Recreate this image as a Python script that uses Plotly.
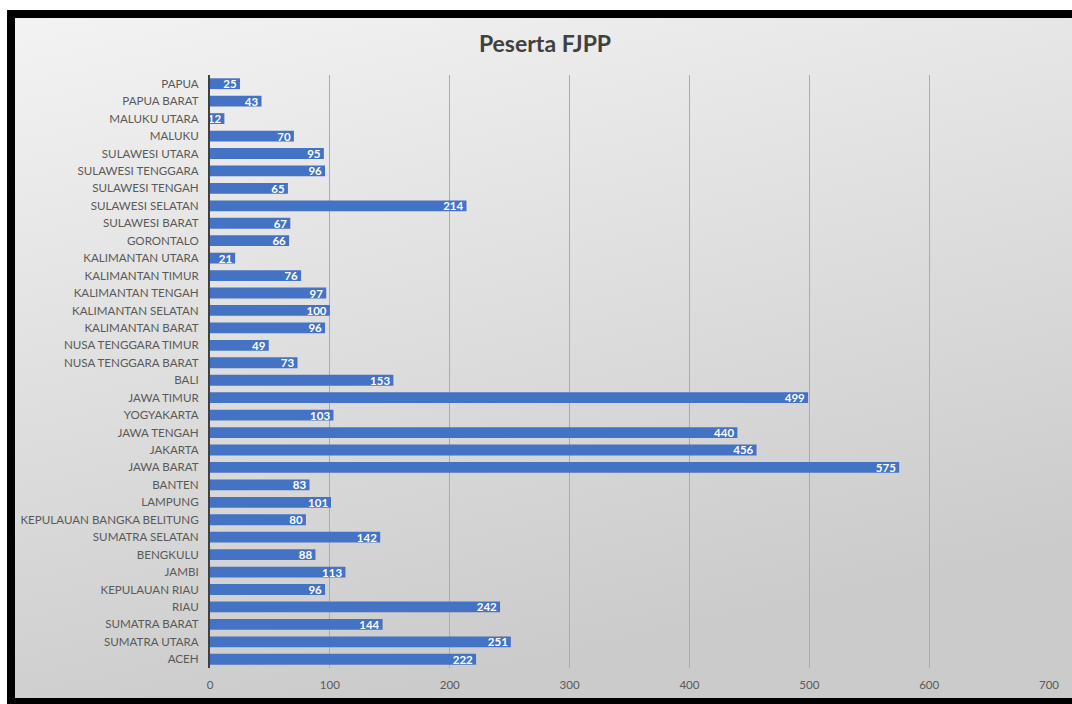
import base64
import plotly.graph_objects as go

# Data (top to bottom as shown in the reference)
provinces = [
    "PAPUA", "PAPUA BARAT", "MALUKU UTARA", "MALUKU", "SULAWESI UTARA",
    "SULAWESI TENGGARA", "SULAWESI TENGAH", "SULAWESI SELATAN", "SULAWESI BARAT",
    "GORONTALO", "KALIMANTAN UTARA", "KALIMANTAN TIMUR", "KALIMANTAN TENGAH",
    "KALIMANTAN SELATAN", "KALIMANTAN BARAT", "NUSA TENGGARA TIMUR",
    "NUSA TENGGARA BARAT", "BALI", "JAWA TIMUR", "YOGYAKARTA", "JAWA TENGAH",
    "JAKARTA", "JAWA BARAT", "BANTEN", "LAMPUNG", "KEPULAUAN BANGKA BELITUNG",
    "SUMATRA SELATAN", "BENGKULU", "JAMBI", "KEPULAUAN RIAU", "RIAU",
    "SUMATRA BARAT", "SUMATRA UTARA", "ACEH",
]
participants = [
    25, 43, 12, 70, 95,
    96, 65, 214, 67,
    66, 21, 76, 97,
    100, 96, 49,
    73, 153, 499, 103, 440,
    456, 575, 83, 101, 80,
    142, 88, 113, 96, 242,
    144, 251, 222,
]
x_ticks = [0, 100, 200, 300, 400, 500, 600, 700]
title_text = "Peserta FJPP"

# plotting order: bottom to top
cats = provinces[::-1]
vals = participants[::-1]

W, H = 1072, 704
L, R, T, B = 210, 1049, 75, 668
pw, ph = R - L, B - T

def px_x(p):
    return (p - L) / pw

def px_y(p):
    return (B - p) / ph

svg = (
    '<svg xmlns="http://www.w3.org/2000/svg" width="100" height="100" preserveAspectRatio="none">'
    '<defs><linearGradient id="g" x1="0" y1="0" x2="0.35" y2="1">'
    '<stop offset="0" stop-color="#f3f3f3"/>'
    '<stop offset="1" stop-color="#cbcbcb"/>'
    '</linearGradient></defs>'
    '<rect width="100" height="100" fill="url(#g)"/></svg>'
)
src = "data:image/svg+xml;base64," + base64.b64encode(svg.encode()).decode()

fig = go.Figure(
    go.Bar(
        x=vals,
        y=cats,
        orientation="h",
        marker=dict(color="#4472C4", line=dict(width=0)),
        text=vals,
        texttemplate="%{text}",
        textposition="inside",
        insidetextanchor="end",
        constraintext="none",
        textangle=0,
        textfont=dict(color="white", size=11.5, family="Lato", weight="bold"),
        cliponaxis=False,
        hoverinfo="x+y",
    )
)

fig.update_layout(
    width=W,
    height=H,
    margin=dict(l=L, r=W - R, t=T, b=H - B),
    paper_bgcolor="white",
    plot_bgcolor="rgba(0,0,0,0)",
    bargap=0.38,
    showlegend=False,
    title=dict(
        text="<b>" + title_text + "</b>",
        x=545 / W,
        xref="container",
        xanchor="center",
        y=1 - 44 / H,
        yref="container",
        yanchor="middle",
        font=dict(family="Lato", size=23, color="#404040"),
    ),
    xaxis=dict(
        range=[0, 700],
        tickvals=x_ticks,
        showgrid=True,
        gridcolor="#ababab",
        gridwidth=1.2,
        zeroline=False,
        showline=False,
        tickfont=dict(family="Lato", size=11.5, color="#595959"),
        ticks="",
        ticklabelstandoff=8,
        fixedrange=True,
    ),
    yaxis=dict(
        categoryorder="array",
        categoryarray=cats,
        showgrid=False,
        showline=True,
        linecolor="#404040",
        linewidth=2,
        ticks="",
        ticklabelstandoff=7,
        tickfont=dict(family="Lato", size=11.6, color="#595959"),
        fixedrange=True,
    ),
    images=[
        dict(
            source=src,
            xref="paper",
            yref="paper",
            x=px_x(14),
            y=px_y(18),
            sizex=(W + 10 - 14) / pw,
            sizey=(699 - 18) / ph,
            sizing="stretch",
            xanchor="left",
            yanchor="top",
            layer="below",
        )
    ],
    shapes=[
        dict(
            type="rect",
            xref="paper",
            yref="paper",
            x0=px_x(11),
            x1=px_x(W + 20),
            y0=px_y(702),
            y1=px_y(14),
            line=dict(color="black", width=8),
            fillcolor="rgba(0,0,0,0)",
            layer="above",
        )
    ],
)

fig.write_html("out.html")
